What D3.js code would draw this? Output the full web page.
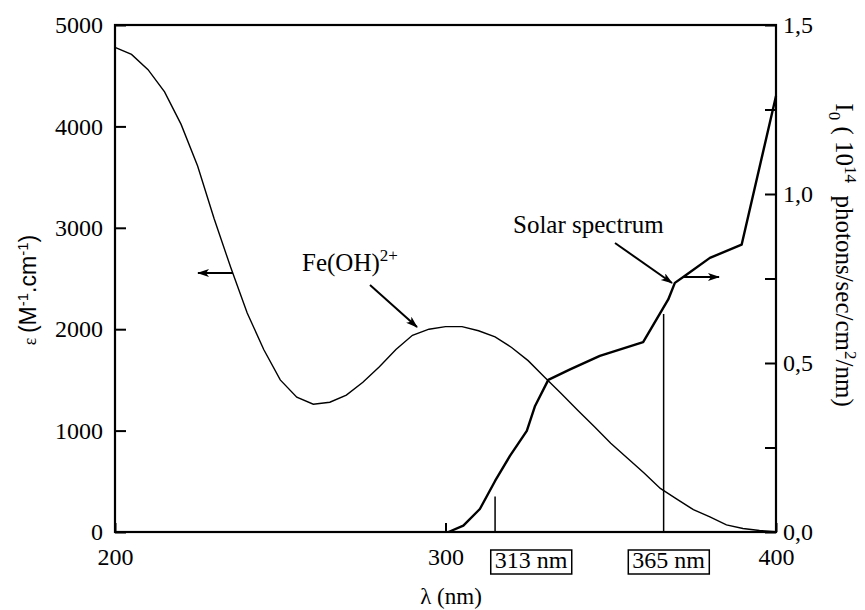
<!DOCTYPE html>
<html>
<head>
<meta charset="utf-8">
<script src="https://cdn.jsdelivr.net/npm/d3@7"></script>
<style>
  body { margin: 0; background: #fff; }
  text { font-family: "Liberation Serif", "Times New Roman", serif; fill: #000; }
</style>
</head>
<body>
<svg id="chart" width="865" height="610"></svg>
<script>
//------------------------------- DATA -----------------------------------------
// Fe(OH)2+ absorption (left axis, M-1.cm-1), read every 5 nm
var wavelengths = [200, 205, 210, 215, 220, 225, 230, 235, 240, 245, 250,
                   255, 260, 265, 270, 275, 280, 285, 290, 295, 300,
                   305, 310, 315, 320, 325, 330, 335, 340, 345, 350,
                   355, 360, 365, 370, 375, 380, 385, 390, 395, 400];
var epsilon = [4780, 4710, 4560, 4340, 4020, 3610, 3090, 2610, 2160, 1800, 1500,
               1330, 1260, 1280, 1350, 1476, 1630, 1800, 1940, 2000, 2025,
               2025, 1985, 1925, 1820, 1690, 1525, 1365, 1200, 1040, 875,
               730, 585, 430, 325, 220, 150, 70, 35, 15, 4];

// Solar spectrum (right axis, 10^14 photons/sec/cm2/nm)
var solarWl = [300.9, 305.4, 310.4, 315, 319.5, 324.6, 327.1, 331.1, 337.7,
               346.7, 359.8, 367.4, 369.4, 373, 380, 389.6, 400];
var solarI = [0, 0.019, 0.068, 0.151, 0.225, 0.299, 0.373, 0.450, 0.481,
              0.521, 0.562, 0.688, 0.737, 0.762, 0.811, 0.850, 1.29];

// axis ticks
var epsTicks = [0, 1000, 2000, 3000, 4000, 5000];
var solarTicks = [0, 0.25, 0.5, 0.75, 1, 1.25, 1.5];
var solarTickLabels = ["0,0", "", "0,5", "", "1,0", "", "1,5"];
var wlTicks = [200, 300, 400];

// lamp lines
var lineWl = [315, 366];
var lineTop = [0.105, 0.645];
var lineLabels = ["313 nm", "365 nm"];

//------------------------------- SET-UP ---------------------------------------
var width = 865;
var height = 610;
var plotLeft = 115, plotRight = 776, plotTop = 25, plotBottom = 532;

var svg = d3.select("#chart");

var x = d3.scaleLinear().domain([200, 400]).range([plotLeft, plotRight]);
var yL = d3.scaleLinear().domain([0, 5000]).range([plotBottom, plotTop]);
var yR = d3.scaleLinear().domain([0, 1.5]).range([plotBottom, plotTop]);

// arrow head
svg.append("defs").append("marker")
    .attr("id", "head")
    .attr("viewBox", "0 0 12 8")
    .attr("refX", 11).attr("refY", 4)
    .attr("markerWidth", 13).attr("markerHeight", 8)
    .attr("markerUnits", "userSpaceOnUse")
    .attr("orient", "auto")
  .append("path")
    .attr("d", "M0,0 L12,4 L0,8 L3,4 Z")
    .attr("fill", "#000");

//------------------------------- AXES -----------------------------------------
var gL = svg.append("g")
    .attr("transform", "translate(" + plotLeft + ",0)")
    .call(d3.axisLeft(yL).tickValues(epsTicks).tickSize(-11).tickPadding(12)
          .tickFormat(d3.format("d")));

var gR = svg.append("g")
    .attr("transform", "translate(" + plotRight + ",0)")
    .call(d3.axisRight(yR).tickValues(solarTicks).tickSize(-11).tickPadding(7)
          .tickFormat(function(d, i) { return solarTickLabels[i]; }));

var gB = svg.append("g")
    .attr("transform", "translate(0," + plotBottom + ")")
    .call(d3.axisBottom(x).tickValues(wlTicks).tickSize(-9).tickPadding(0)
          .tickFormat(d3.format("d")));

[gL, gR, gB].forEach(function(g) {
    g.select(".domain").remove();
    g.selectAll(".tick line").attr("stroke", "#000").attr("stroke-width", 2);
    g.selectAll(".tick text")
        .style("font-family", "'Liberation Serif', serif")
        .style("font-size", "24px")
        .attr("fill", "#000");
});
gB.selectAll(".tick text").attr("y", 0).attr("dy", 33);

// frame
svg.append("rect")
    .attr("x", plotLeft).attr("y", plotTop)
    .attr("width", plotRight - plotLeft).attr("height", plotBottom - plotTop)
    .attr("fill", "none").attr("stroke", "#000").attr("stroke-width", 2.2);

// axis titles
var tL = svg.append("text")
    .attr("transform", "translate(36,290) rotate(-90)")
    .attr("text-anchor", "middle")
    .style("font-family", "'Liberation Sans', Arial, sans-serif")
    .style("font-size", "23px");
tL.append("tspan").style("font-family", "'Liberation Serif', serif").style("font-size", "18px").text("\u03b5 ");
tL.append("tspan").text("(M");
tL.append("tspan").attr("dy", -8).style("font-size", "15px").text("-1");
tL.append("tspan").attr("dy", 8).text(".cm");
tL.append("tspan").attr("dy", -8).style("font-size", "15px").text("-1");
tL.append("tspan").attr("dy", 8).text(")");

var tR = svg.append("text")
    .attr("transform", "translate(836,255) rotate(90)")
    .attr("text-anchor", "middle")
    .style("font-size", "25px")
    .style("white-space", "pre");
tR.append("tspan").text("I");
tR.append("tspan").attr("dy", 7).style("font-size", "17px").text("0");
tR.append("tspan").attr("dy", -7).text(" ( 10");
tR.append("tspan").attr("dy", -9).style("font-size", "17px").text("14");
tR.append("tspan").attr("dy", 9).text("  photons/sec/cm");
tR.append("tspan").attr("dy", -9).style("font-size", "17px").text("2");
tR.append("tspan").attr("dy", 9).text("/nm)");

svg.append("text")
    .attr("x", 451).attr("y", 604)
    .attr("text-anchor", "middle")
    .style("font-size", "23px")
    .text("\u03bb (nm)");

//------------------------------- CURVES ---------------------------------------
var epsLine = d3.line()
    .x(function(d, i) { return x(wavelengths[i]); })
    .y(function(d) { return yL(d); });

svg.append("path")
    .attr("d", epsLine(epsilon))
    .attr("fill", "none").attr("stroke", "#000").attr("stroke-width", 1.4);

var solarLine = d3.line()
    .x(function(d, i) { return x(solarWl[i]); })
    .y(function(d) { return yR(d); });

svg.append("path")
    .attr("d", solarLine(solarI))
    .attr("fill", "none").attr("stroke", "#000").attr("stroke-width", 2.4)
    .attr("stroke-linejoin", "round");

// lamp lines and boxed labels
var boxOffsets = [36, 5];
lineWl.forEach(function(w, i) {
    svg.append("line")
        .attr("x1", x(w)).attr("x2", x(w))
        .attr("y1", plotBottom).attr("y2", yR(lineTop[i]))
        .attr("stroke", "#000").attr("stroke-width", 1.5);

    var t = svg.append("text")
        .attr("x", x(w) + boxOffsets[i]).attr("y", 568)
        .attr("text-anchor", "middle")
        .style("font-size", "24px")
        .text(lineLabels[i]);
    var b = t.node().getBBox();
    svg.append("rect")
        .attr("x", b.x - 4).attr("y", b.y + 3)
        .attr("width", b.width + 8).attr("height", b.height - 2)
        .attr("fill", "none").attr("stroke", "#000").attr("stroke-width", 1.5);
});

//------------------------------- ANNOTATIONS ----------------------------------
function arrow(x1, y1, x2, y2) {
    svg.append("line")
        .attr("x1", x1).attr("y1", y1).attr("x2", x2).attr("y2", y2)
        .attr("stroke", "#000").attr("stroke-width", 2)
        .attr("marker-end", "url(#head)");
}

var fe = svg.append("text").attr("x", 302).attr("y", 271).style("font-size", "25px");
fe.append("tspan").text("Fe(OH)");
fe.append("tspan").attr("dy", -10).style("font-size", "17px").text("2+");

svg.append("text").attr("x", 513).attr("y", 233).style("font-size", "25px")
    .text("Solar spectrum");

arrow(233, 273, 198, 273);      // epsilon -> left axis
arrow(370, 285, 417, 327);      // Fe(OH)2+ label
arrow(615, 243, 672, 283);      // solar label
arrow(683, 277, 719, 277);      // solar -> right axis
</script>
</body>
</html>
